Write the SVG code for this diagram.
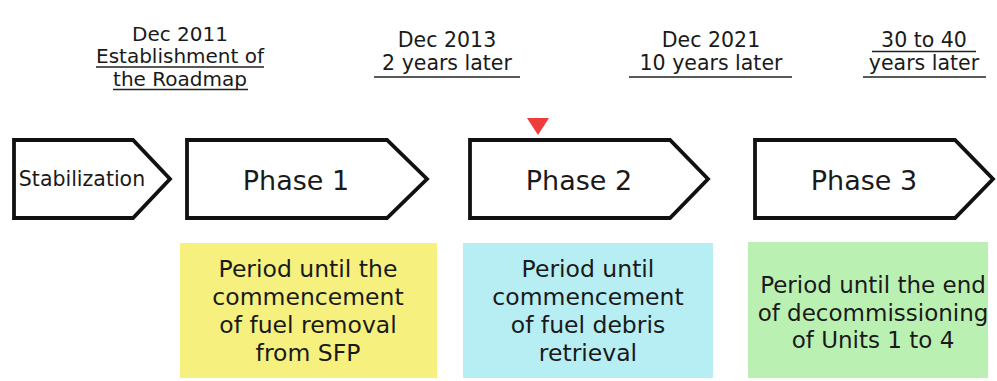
<svg xmlns="http://www.w3.org/2000/svg" width="997" height="381" viewBox="0 0 997 381">
<style>
text{font-family:"DejaVu Sans","Verdana",sans-serif;fill:#1a1a1a;text-anchor:middle}
.date{font-size:20.5px}
.d1{font-size:20px}
.ph{fill:#fff;stroke:#111;stroke-width:3.8;stroke-linejoin:miter}
.pt{font-size:27px}
.bt{font-size:23.5px}
.ul{stroke:#222;stroke-width:1.6}
</style>
<rect width="997" height="381" fill="#fff"/>
<g id="dates">
<text class="d1" x="180" y="40.5">Dec 2011</text>
<text class="d1" x="180" y="63">Establishment of</text>
<text class="d1" x="180" y="85.5">the Roadmap</text>
<line class="ul" x1="96" y1="67" x2="264" y2="67"/>
<line class="ul" x1="113" y1="89.5" x2="248" y2="89.5"/>
<text class="date" x="447" y="47">Dec 2013</text>
<text class="date" x="447" y="70">2 years later</text>
<line class="ul" x1="374" y1="77" x2="520" y2="77"/>
<text class="date" x="711" y="47">Dec 2021</text>
<text class="date" x="711" y="70">10 years later</text>
<line class="ul" x1="629" y1="77" x2="792" y2="77"/>
<text class="date" x="924" y="47">30 to 40</text>
<line class="ul" x1="872" y1="51.5" x2="976" y2="51.5"/>
<text class="date" x="924" y="70">years later</text>
<line class="ul" x1="863" y1="77" x2="986" y2="77"/>
</g>
<polygon id="marker" points="527,118 549,118 538,135" fill="#ee3b3b"/>
<g id="stabilization">
<polygon class="ph" points="14,140 133,140 170,179 133,218 14,218"/>
<text x="82" y="186" style="font-size:20.5px">Stabilization</text>
</g>
<g id="phase1">
<polygon class="ph" points="187,140 387,140 427,179 387,218 187,218"/>
<text class="pt" x="296" y="190">Phase 1</text>
</g>
<g id="phase2">
<polygon class="ph" points="470,140 670,140 708,179 670,218 470,218"/>
<text class="pt" x="579" y="190">Phase 2</text>
</g>
<g id="phase3">
<polygon class="ph" points="755,140 955,140 993,179 955,218 755,218"/>
<text class="pt" x="864" y="190">Phase 3</text>
</g>
<g id="box1">
<rect x="180" y="243" width="257" height="135" fill="#f6f17e"/>
<text class="bt" x="308" y="277">Period until the</text>
<text class="bt" x="308" y="305">commencement</text>
<text class="bt" x="308" y="333">of fuel removal</text>
<text class="bt" x="308" y="361">from SFP</text>
</g>
<g id="box2">
<rect x="463" y="243" width="250" height="135" fill="#b6eef4"/>
<text class="bt" x="588" y="277">Period until</text>
<text class="bt" x="588" y="305">commencement</text>
<text class="bt" x="588" y="333">of fuel debris</text>
<text class="bt" x="588" y="361">retrieval</text>
</g>
<g id="box3">
<rect x="748" y="242" width="240" height="136" fill="#baf0b2"/>
<text class="bt" x="873" y="293" style="font-size:23px">Period until the end</text>
<text class="bt" x="873" y="321" style="font-size:23px">of decommissioning</text>
<text class="bt" x="873" y="348" style="font-size:23px">of Units 1 to 4</text>
</g>
<g id="connectors"></g>
</svg>
